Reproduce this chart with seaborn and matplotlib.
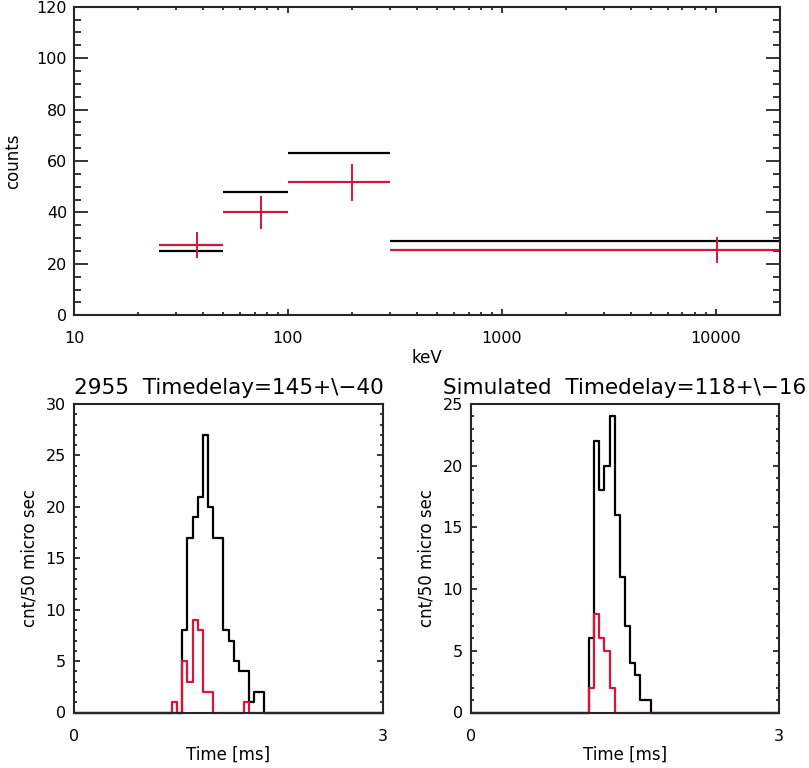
import numpy as np
import pandas as pd
import matplotlib
matplotlib.use("Agg")
import matplotlib.pyplot as plt
import seaborn as sns
from matplotlib.ticker import (FixedLocator, MultipleLocator, LogLocator,
                               FuncFormatter, NullFormatter)

# ---------------- data: top panel (spectrum) ----------------
bin_lo = [25, 50, 100, 300]            # keV
bin_hi = [50, 100, 300, 20000]         # keV
black_counts = [25, 48, 63, 29]
red_counts = [27.3, 40, 51.7, 25.5]
red_center = [37.5, 75, 200, 10150]
red_err = [5.2, 6.3, 7.1, 5.0]

# ---------------- data: bottom panels (50 us bins, 0-3 ms) ----------------
bin_ms = 0.05
obs_total = [0, 0, 0, 0, 0, 0, 0, 0, 0, 0,
             0, 0, 0, 0, 0, 0, 0, 0, 0, 0,
             0, 8, 17, 19, 21, 27, 20, 17, 17, 8,
             7, 5, 4, 4, 1, 2, 2, 0, 0, 0,
             0, 0, 0, 0, 0, 0, 0, 0, 0, 0,
             0, 0, 0, 0, 0, 0, 0, 0, 0, 0]
obs_red = [0, 0, 0, 0, 0, 0, 0, 0, 0, 0,
           0, 0, 0, 0, 0, 0, 0, 0, 0, 1,
           0, 5, 3, 9, 8, 2, 2, 0, 0, 0,
           0, 0, 0, 1, 0, 0, 0, 0, 0, 0,
           0, 0, 0, 0, 0, 0, 0, 0, 0, 0,
           0, 0, 0, 0, 0, 0, 0, 0, 0, 0]
sim_total = [0, 0, 0, 0, 0, 0, 0, 0, 0, 0,
             0, 0, 0, 0, 0, 0, 0, 0, 0, 0,
             0, 0, 0, 6, 22, 18, 20, 24, 16, 11,
             7, 4, 3, 1, 1, 0, 0, 0, 0, 0,
             0, 0, 0, 0, 0, 0, 0, 0, 0, 0,
             0, 0, 0, 0, 0, 0, 0, 0, 0, 0]
sim_red = [0, 0, 0, 0, 0, 0, 0, 0, 0, 0,
           0, 0, 0, 0, 0, 0, 0, 0, 0, 0,
           0, 0, 0, 2, 8, 6, 5, 2, 0, 0,
           0, 0, 0, 0, 0, 0, 0, 0, 0, 0,
           0, 0, 0, 0, 0, 0, 0, 0, 0, 0,
           0, 0, 0, 0, 0, 0, 0, 0, 0, 0]

titles = ["2955  Timedelay=145+\\\u221240",
          "Simulated  Timedelay=118+\\\u221216"]

RED = "#d7143c"
BLACK = "#000000"

sns.set_theme(style="ticks")
plt.rcParams["font.family"] = ["DejaVu Sans"]
plt.rcParams["axes.linewidth"] = 1.5
plt.rcParams["xtick.direction"] = "in"
plt.rcParams["ytick.direction"] = "in"

W, H = 809, 768
fig = plt.figure(figsize=(W / 100, H / 100), dpi=100)
fig.patch.set_facecolor("white")


def px_axes(left, top, right, bottom):
    return fig.add_axes([left / W, 1 - bottom / H, (right - left) / W, (bottom - top) / H])


# ---------------- top panel ----------------
ax = px_axes(74, 6.7, 780, 315.3)
ax.set_xscale("log")
ax.hlines(black_counts, bin_lo, bin_hi, color=BLACK, lw=1.6)
ax.hlines(red_counts, bin_lo, bin_hi, color=RED, lw=1.6)
ax.errorbar(red_center, red_counts, yerr=red_err, fmt="none", ecolor=RED,
            elinewidth=1.4, capsize=0)
ax.set_xlim(10, 20000)
ax.set_ylim(0, 120)
ax.xaxis.set_major_locator(FixedLocator([10, 100, 1000, 10000]))
ax.xaxis.set_major_formatter(FuncFormatter(lambda v, p: f"{int(round(v))}"))
ax.xaxis.set_minor_locator(LogLocator(base=10, subs=np.arange(2, 10)))
ax.xaxis.set_minor_formatter(NullFormatter())
ax.yaxis.set_major_locator(MultipleLocator(20))
ax.yaxis.set_minor_locator(MultipleLocator(5))
ax.tick_params(axis="both", which="both", top=True, right=True, color="black",
               labelcolor="black", labelsize=11.5)
ax.tick_params(axis="y", which="major", length=10, width=1.1, pad=5)
ax.tick_params(axis="y", which="minor", length=5, width=1.1)
ax.tick_params(axis="x", which="major", length=4.3, width=1.1, pad=11)
ax.tick_params(axis="x", which="minor", length=2.2, width=1.1)
ax.set_ylabel("counts", fontsize=12, color="black", va="center")
ax.yaxis.set_label_coords(-0.086, 0.5)
ax.set_xlabel("keV", fontsize=12, color="black", va="center")
ax.xaxis.set_label_coords(0.5, -0.138)

# ---------------- bottom panels ----------------
centers = (np.arange(60) + 0.5) * bin_ms
panels = [
    (74.3, 382.7, obs_total, obs_red, 30, titles[0]),
    (471.0, 779.0, sim_total, sim_red, 25, titles[1]),
]
for left, right, tot, red, ymax, title in panels:
    a = px_axes(left, 404, right, 712.5)
    df = pd.DataFrame({"t": centers, "total": tot, "red": red})
    sns.histplot(data=df, x="t", weights="total", bins=60, binrange=(0, 3),
                 element="step", fill=False, color=BLACK, linewidth=1.6, ax=a)
    sns.histplot(data=df, x="t", weights="red", bins=60, binrange=(0, 3),
                 element="step", fill=False, color=RED, linewidth=1.6, ax=a)
    for ln in a.lines:
        ln.set_clip_on(False)
    for c in a.collections:
        c.set_clip_on(False)
    a.set_xlim(0, 3)
    a.set_ylim(0, ymax)
    a.xaxis.set_major_locator(FixedLocator([0, 3]))
    a.yaxis.set_major_locator(MultipleLocator(5))
    a.yaxis.set_minor_locator(MultipleLocator(1))
    a.tick_params(axis="x", which="both", length=0, pad=12, labelsize=11.5,
                  labelcolor="black")
    a.tick_params(axis="y", which="both", right=True, color="black",
                  labelcolor="black", labelsize=11.5, pad=6)
    a.tick_params(axis="y", which="major", length=4.3, width=1.1)
    a.tick_params(axis="y", which="minor", length=2.2, width=1.1)
    a.set_xlabel("Time [ms]", fontsize=12, color="black", va="center")
    a.xaxis.set_label_coords(0.5, -0.138)
    a.set_ylabel("cnt/50 micro sec", fontsize=12, color="black", va="center")
    a.yaxis.set_label_coords(-0.144, 0.5)
    a.set_title(title, fontsize=15.5, color="black", pad=7)

fig.savefig("out.png", dpi=100, facecolor="white")
